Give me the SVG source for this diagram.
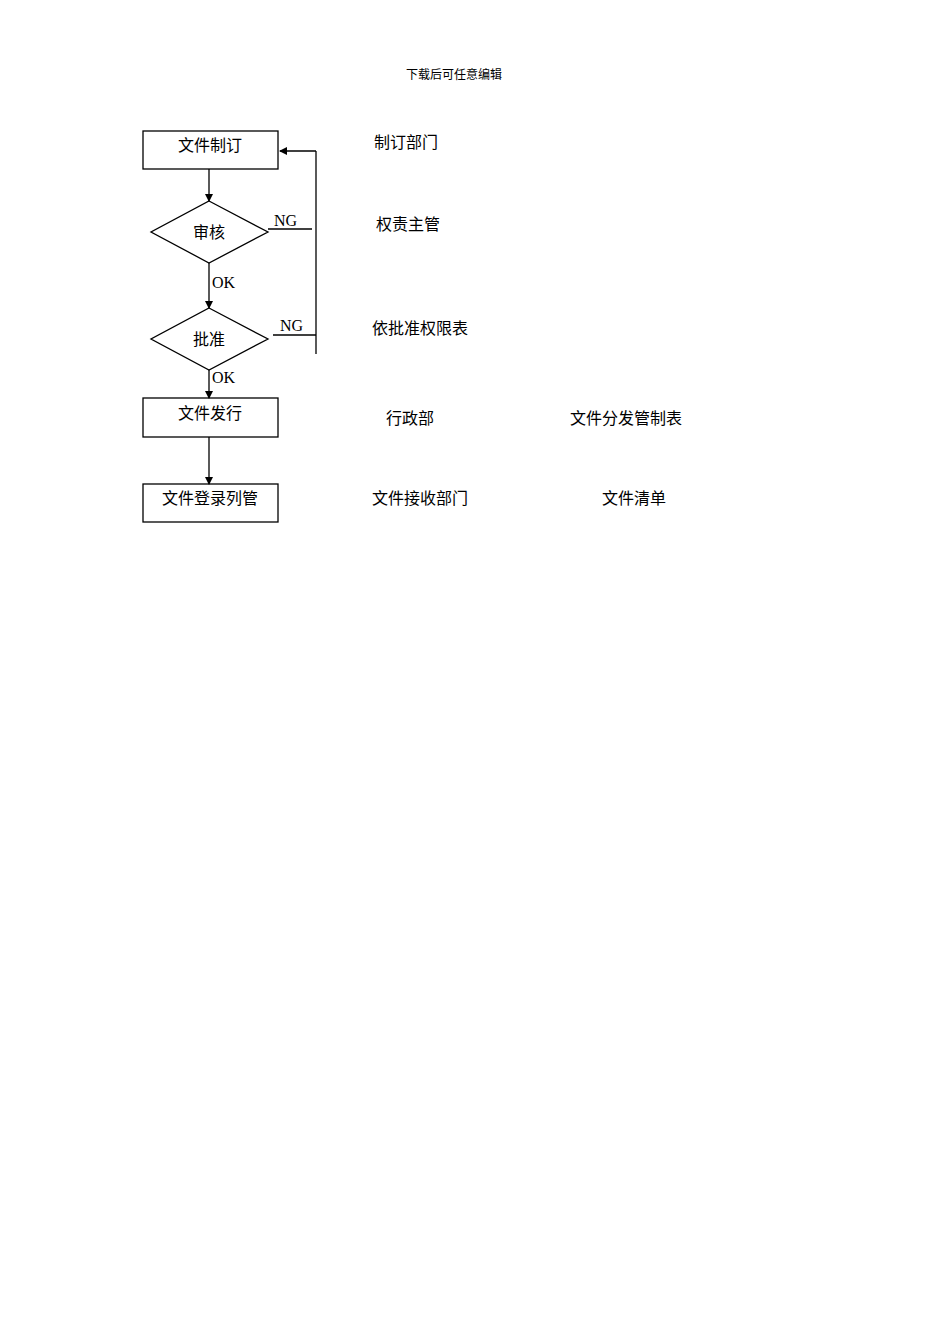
<svg xmlns="http://www.w3.org/2000/svg" width="950" height="1344" viewBox="0 0 950 1344">
<style>
.s{fill:none;stroke:#000;stroke-width:1.3}
.t{font-family:"Liberation Serif","Noto Sans CJK SC",serif;font-size:16px;fill:#000}
.c{text-anchor:middle}
</style>
<defs><marker id="a" markerWidth="8" markerHeight="8" refX="7" refY="4" orient="auto" markerUnits="userSpaceOnUse"><path d="M0,0L8,4L0,8z"/></marker></defs>
<rect width="950" height="1344" fill="#fff"/>
<text class="t c" x="454" y="79" style="font-size:12px">下载后可任意编辑</text>
<g id="n1"><rect class="s" x="143" y="131" width="135" height="38"/><text class="t c" x="210" y="151">文件制订</text></g>
<g id="n2"><polygon class="s" points="209,201 268,232 209,263 151,232"/><text class="t c" x="209" y="238">审核</text></g>
<g id="n3"><polygon class="s" points="209,308 268,339 209,370 151,339"/><text class="t c" x="209" y="345">批准</text></g>
<g id="n4"><rect class="s" x="143" y="398" width="135" height="39"/><text class="t c" x="210" y="419">文件发行</text></g>
<g id="n5"><rect class="s" x="143" y="484" width="135" height="38"/><text class="t c" x="210" y="504">文件登录列管</text></g>
<g id="connectors">
<line class="s" x1="209" y1="169" x2="209" y2="201" marker-end="url(#a)"/>
<line class="s" x1="209" y1="263" x2="209" y2="308" marker-end="url(#a)"/>
<line class="s" x1="209" y1="370" x2="209" y2="398" marker-end="url(#a)"/>
<line class="s" x1="209" y1="437" x2="209" y2="484" marker-end="url(#a)"/>
<line class="s" x1="268" y1="229" x2="312" y2="229"/>
<line class="s" x1="273" y1="335" x2="316" y2="335"/>
<line class="s" x1="316" y1="151" x2="316" y2="354"/>
<line class="s" x1="316" y1="151" x2="280" y2="151" marker-end="url(#a)"/>
<text class="t" x="274" y="226">NG</text>
<text class="t" x="280" y="331">NG</text>
<text class="t" x="212" y="288">OK</text>
<text class="t" x="212" y="383">OK</text>
</g>
<text class="t" x="374" y="148">制订部门</text>
<text class="t" x="376" y="230">权责主管</text>
<text class="t" x="372" y="334">依批准权限表</text>
<text class="t" x="386" y="424">行政部</text>
<text class="t" x="570" y="424">文件分发管制表</text>
<text class="t" x="372" y="504">文件接收部门</text>
<text class="t" x="602" y="504">文件清单</text>
</svg>
